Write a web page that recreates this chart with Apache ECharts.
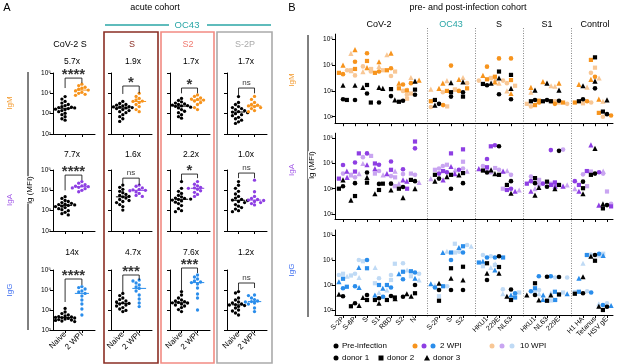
<!DOCTYPE html>
<html>
<head>
<meta charset="utf-8">
<script src="https://cdn.jsdelivr.net/npm/echarts@6/dist/echarts.min.js"></script>
<style>
  html, body { margin: 0; padding: 0; background: #fff; }
  #chart { width: 617px; height: 364px; }
</style>
</head>
<body>
<div id="chart"></div>
<script>
// ---------- Panel A: acute cohort, lg(MFI) per column [CoV-2 S, S, S2, S-2P] ----------
const aAntigens = ['CoV-2 S', 'S', 'S2', 'S-2P'];
const aGroups = ['Naive', '2 WPI'];
const aFold = [['5.7x', '1.9x', '1.7x', '1.7x'], ['7.7x', '1.6x', '2.2x', '1.0x'], ['14x', '4.7x', '7.6x', '1.2x']];
const aSig = [['****', '*', '*', 'ns'], ['****', 'ns', '*', 'ns'], ['****', '***', '***', 'ns']];
// bracket: [left end, top, right end] in lg(MFI)
const aBracket = [
  [[4.26, 4.75, 4.5], [3.97, 4.36, 4.0], [4.0, 4.26, 4.0], [3.87, 4.26, 4.0]],
  [[4.0, 4.75, 4.5], [4.26, 4.6, 4.26], [4.36, 4.8, 4.6], [4.6, 4.85, 4.6]],
  [[3.4, 4.55, 4.25], [3.9, 4.75, 4.5], [4.0, 5.1, 4.85], [4.0, 4.35, 4.1]]
];

const igmNaive = [
  [3.84, 3.72, 3.6, 3.52, 3.45, 3.4, 3.35, 3.32, 3.3, 3.28, 3.25, 3.22, 3.2, 3.15, 3.1, 3.02, 2.95, 2.85, 2.75, 2.68],
  [3.6, 3.5, 3.45, 3.42, 3.38, 3.35, 3.33, 3.32, 3.3, 3.28, 3.25, 3.2, 3.15, 3.1, 3.05, 2.95, 2.85, 2.75, 2.62],
  [3.75, 3.65, 3.58, 3.52, 3.48, 3.45, 3.42, 3.4, 3.38, 3.36, 3.32, 3.28, 3.2, 3.12, 3.05, 2.95, 2.85, 2.78],
  [3.84, 3.55, 3.45, 3.35, 3.3, 3.25, 3.2, 3.15, 3.1, 3.08, 3.05, 3.0, 2.95, 2.9, 2.82, 2.75, 2.68, 2.6, 2.52]
];
const igm2wpi = [
  [4.45, 4.38, 4.3, 4.25, 4.2, 4.16, 4.12, 4.05, 4.0, 3.95, 3.9],
  [4.0, 3.85, 3.75, 3.68, 3.62, 3.6, 3.55, 3.45, 3.35, 3.2, 3.1],
  [3.92, 3.85, 3.78, 3.72, 3.7, 3.67, 3.62, 3.55, 3.45, 3.3, 3.2],
  [3.85, 3.7, 3.55, 3.45, 3.42, 3.38, 3.35, 3.3, 3.25, 3.15, 3.1]
];
const igaNaive = [
  [3.69, 3.6, 3.5, 3.45, 3.4, 3.36, 3.32, 3.3, 3.28, 3.26, 3.22, 3.2, 3.15, 3.1, 3.05, 3.0, 2.92, 2.85, 2.79],
  [4.26, 4.15, 4.05, 3.95, 3.88, 3.8, 3.75, 3.7, 3.68, 3.62, 3.55, 3.5, 3.45, 3.4, 3.3, 3.2, 3.03],
  [4.43, 4.1, 3.95, 3.85, 3.75, 3.68, 3.62, 3.6, 3.57, 3.55, 3.52, 3.48, 3.42, 3.35, 3.25, 3.1, 3.0, 2.95],
  [4.43, 4.25, 4.1, 3.95, 3.82, 3.7, 3.62, 3.56, 3.52, 3.5, 3.45, 3.4, 3.3, 3.22, 3.15, 3.08, 3.0, 2.95]
];
const iga2wpi = [
  [4.43, 4.35, 4.28, 4.22, 4.2, 4.18, 4.15, 4.12, 4.08, 4.0, 3.93],
  [4.26, 4.2, 4.12, 4.05, 4.02, 4.0, 3.98, 3.92, 3.85, 3.75, 3.7],
  [4.43, 4.3, 4.22, 4.15, 4.12, 4.1, 4.05, 3.98, 3.9, 3.8, 3.7],
  [4.5, 3.93, 3.7, 3.6, 3.55, 3.52, 3.5, 3.45, 3.4, 3.35, 3.28]
];
const iggNaive = [
  [3.08, 2.9, 2.82, 2.75, 2.7, 2.67, 2.65, 2.63, 2.62, 2.6, 2.58, 2.55, 2.52, 2.5, 2.48, 2.45, 2.42],
  [3.83, 3.72, 3.6, 3.52, 3.45, 3.4, 3.36, 3.33, 3.3, 3.25, 3.2, 3.12, 3.05, 2.98, 2.92],
  [3.92, 3.75, 3.6, 3.5, 3.45, 3.42, 3.38, 3.36, 3.35, 3.3, 3.25, 3.2, 3.12, 3.02, 2.92],
  [3.92, 3.85, 3.6, 3.5, 3.4, 3.35, 3.3, 3.27, 3.25, 3.22, 3.18, 3.1, 3.0, 2.95, 2.85, 2.75]
];
const igg2wpi = [
  [4.17, 4.12, 4.05, 3.95, 3.9, 3.83, 3.7, 3.5, 3.3, 3.05, 2.75],
  [4.5, 4.45, 4.35, 4.25, 4.15, 4.08, 3.95, 3.75, 3.55, 3.35, 3.17],
  [4.75, 4.65, 4.55, 4.45, 4.4, 4.37, 4.3, 4.1, 3.8, 3.6, 3.0],
  [3.75, 3.72, 3.6, 3.52, 3.45, 3.42, 3.4, 3.35, 3.3, 3.1, 2.92]
];

// ---------- Panel B: pre- and post-infection cohort, [donor 1, donor 2, donor 3] ----------
const bGroupNames = ['CoV-2', 'OC43', 'S', 'S1', 'Control'];
const bAntigens = [
  ['S-2P', 'S-6P', 'S', 'S1', 'RBD', 'S2', 'N'],
  ['S-2P', 'S', 'S2'],
  ['HKU1', '229E', 'NL63'],
  ['HKU1', 'NL63', '229E'],
  ['H1 HA', 'Tetanus', 'HSV gE']
];
const bIgMPre = [[2.68,2.68,3.22],[2.65,2.65,3.22],[2.9,3.23,3.14],[2.55,2.55,3.14],[2.8,3.07,3.1],[2.62,2.58,2.65],[2.85,3.05,3.38],
  [2.5,2.65,2.45],[2.78,2.95,3.32],[2.95,2.78,3.35],[3.22,3.27,3.3],[2.87,3.75,3.5],[2.68,3.62,3.1],
  [2.65,2.6,3.03],[2.65,2.6,3.3],[2.62,2.6,3.03],[2.68,2.6,3.2],[3.1,4.3,3.38],[2.1,2.2,2.65]];
const bIgM2 = [[3.65,3.7,4.0],[4.13,3.85,4.6],[4.46,4.16,3.9],[3.75,3.7,4.13],[3.88,3.8,4.46],[3.25,3.1,3.3],[3.3,3.02,3.42],
  [2.45,2.6,3.1],[3.98,3.0,3.3],[3.0,3.1,3.45],[3.94,3.45,3.6],[4.26,3.55,3.35],[4.26,3.42,2.9],
  [2.55,2.45,3.14],[2.6,2.62,3.36],[2.5,2.55,3.3],[2.6,2.55,3.25],[3.55,4.2,3.45],[2.05,2.15,2.68]];
const bIgM10 = [[3.8,3.75,3.78],[3.6,3.8,4.45],[3.95,3.85,3.75],[3.75,3.8,3.95],[3.58,3.75,4.4],[3.0,2.7,3.05],[2.85,2.9,3.52],
  [2.38,2.4,3.07],[2.95,3.05,3.4],[3.3,3.05,3.52],[3.4,3.5,3.45],[3.4,3.5,3.3],[3.3,3.2,3.0],
  [2.4,2.5,2.95],[2.55,2.6,3.2],[2.5,2.55,3.18],[2.55,2.52,3.15],[3.7,3.9,3.5],[2.0,2.1,2.6]];
const bIgAPre = [[3.1,3.0,3.35],[3.22,2.71,2.55],[3.64,3.24,3.45],[3.19,2.95,2.8],[3.2,3.2,2.95],[3.07,3.0,2.65],[3.3,3.35,3.0],
  [3.4,3.55,3.3],[3.0,3.55,3.48],[3.22,3.62,3.55],[3.64,3.72,3.75],[4.68,3.55,3.6],[3.3,3.15,2.82],
  [3.22,3.42,2.75],[3.08,3.28,3.05],[4.5,3.15,3.0],[3.28,3.02,2.8],[3.6,3.55,4.6],[2.35,2.22,2.4]];
const bIgA2 = [[3.94,3.4,3.45],[4.04,3.68,3.7],[4.4,4.4,3.95],[3.95,4.0,3.8],[4.08,3.75,3.6],[3.77,3.0,3.35],[4.6,4.87,3.3],
  [3.6,3.7,3.35],[3.65,4.4,3.88],[3.75,4.56,3.6],[4.18,3.85,3.8],[4.72,4.68,3.7],[3.0,2.95,2.9],
  [3.3,3.2,2.9],[3.2,3.15,3.1],[4.53,3.25,3.1],[3.3,3.15,2.9],[3.65,3.7,4.74],[2.38,2.3,2.35]];
const bIgA10 = [[3.6,3.5,3.55],[3.45,3.55,3.6],[4.25,4.3,4.0],[3.7,3.6,3.55],[3.5,3.45,3.7],[3.58,3.1,3.2],[3.55,3.6,3.25],
  [3.8,3.75,3.4],[3.9,3.95,3.75],[3.8,4.07,3.7],[3.9,3.82,3.78],[3.75,3.65,3.72],[3.55,3.0,2.95],
  [3.48,3.35,3.0],[3.3,3.15,3.2],[4.55,3.2,3.15],[3.57,3.1,3.0],[3.6,3.68,3.7],[2.4,2.89,2.3]];
const bIgGPre = [[2.55,2.52,2.63],[2.27,2.15,2.18],[2.6,2.4,2.5],[2.47,2.4,2.27],[2.56,2.4,2.45],[2.53,2.5,2.55],[3.0,2.67,2.65],
  [2.8,2.37,3.07],[2.8,3.67,3.27],[2.8,3.73,3.2],[3.2,3.87,3.47],[4.15,3.72,3.47],[2.82,2.4,2.55],
  [2.6,3.07,2.6],[3.33,2.37,2.4],[3.32,2.62,2.6],[2.67,2.65,3.33],[4.2,3.97,4.15],[2.13,2.0,2.15]];
const bIgG2 = [[2.87,3.25,3.13],[2.95,2.93,2.9],[4.0,3.67,3.7],[2.53,3.0,2.6],[2.9,3.0,2.87],[3.23,3.53,3.45],[3.5,3.55,3.27],
  [2.9,2.95,3.05],[4.0,4.3,4.3],[4.3,4.55,4.5],[4.1,3.9,3.95],[4.1,4.1,3.6],[2.67,2.5,2.6],
  [2.75,2.87,2.6],[3.35,2.4,2.42],[3.35,2.73,2.65],[2.7,2.73,3.27],[4.25,4.2,4.18],[2.2,2.15,2.18]];
const bIgG10 = [[3.4,3.45,3.35],[3.45,3.38,3.3],[4.0,3.95,3.7],[3.27,3.07,2.7],[3.4,3.2,2.8],[3.87,3.85,3.6],[3.45,3.35,3.2],
  [2.95,2.55,3.0],[4.33,4.3,4.35],[4.6,4.65,4.55],[4.2,3.75,3.85],[4.15,3.8,3.7],[2.83,2.7,2.65],
  [2.8,2.7,2.65],[3.3,2.38,2.4],[3.3,2.7,2.68],[2.75,2.72,3.87],[4.22,4.25,4.2],[2.27,2.22,2.25]];

const isotypes = ['IgM', 'IgA', 'IgG'];
const isoColor = ['#F7941D', '#8E3FE3', '#2A8DEB'];
const isoLight = ['#F8C795', '#C9A5F1', '#BFDAF5'];
const isoLabelColor = ['#F39A2E', '#A35BE8', '#3B6CF0'];
const FONT = '"Liberation Sans", Arial, sans-serif';
const SUP = ['⁰', '¹', '²', '³', '⁴', '⁵'];

const chart = echarts.init(document.getElementById('chart'));

// simple beeswarm: deterministic horizontal offsets so marks don't overlap
function swarm(vals, pxX, pxY, size, step, maxK) {
  const placed = [];
  return vals.map(v => {
    let best = 0, bestCost = Infinity;
    for (let k = 0; k <= maxK; k++) {
      for (const sgn of (k === 0 ? [1] : [-1, 1])) {
        const dx = sgn * k * step;
        let cost = 0;
        placed.forEach(p => {
          const d = Math.hypot((p[0] - dx) * pxX, (p[1] - v) * pxY);
          if (d < size) cost += size - d;
        });
        if (cost === 0) { placed.push([dx, v]); return dx; }
        if (cost < bestCost) { bestCost = cost; best = dx; }
      }
    }
    placed.push([best, v]);
    return best;
  });
}
function median(arr) {
  const s = arr.slice().sort((a, b) => a - b);
  const m = Math.floor(s.length / 2);
  return s.length % 2 ? s[m] : (s[m - 1] + s[m]) / 2;
}

const grids = [], xAxes = [], yAxes = [], series = [], graphics = [];
const axisBlack = { show: true, onZero: false, lineStyle: { color: '#000', width: 1 } };
const tickBlack = { color: '#000', width: 1 };

function txt(text, x, y, size, color, extra) {
  return Object.assign({
    type: 'text', x: x, y: y, silent: true,
    style: { text: text, fill: color || '#000', fontSize: size, fontFamily: FONT,
      align: 'center', verticalAlign: 'middle', textAlign: 'center', textVerticalAlign: 'middle' }
  }, extra || {});
}

// ---- Panel A layout ----
const aCols = [[53, 42], [111, 41], [170, 40], [227, 40]];
const aRows = [[73, 61], [170, 61], [270, 60]];
const aNaive = [igmNaive, igaNaive, iggNaive];
const aWpi = [igm2wpi, iga2wpi, igg2wpi];
const aFoldY = [62, 155, 253];
const aFoldX = [72, 133, 191, 246];

aRows.forEach(([top, h], r) => {
  aCols.forEach(([left, w], c) => {
    const gi = grids.length;
    grids.push({ left: left, top: top, width: w, height: h, outerBoundsMode: 'none' });
    xAxes.push({
      gridIndex: gi, type: 'value', min: -0.72, max: 1.78,
      axisLine: axisBlack,
      axisTick: { show: true, customValues: [0, 1], length: 3, lineStyle: tickBlack },
      axisLabel: { show: r === 2, customValues: [0, 1], rotate: 45, margin: 3,
        formatter: v => aGroups[v] || '', fontSize: 8, color: '#000', fontFamily: FONT },
      splitLine: { show: false }
    });
    yAxes.push({
      gridIndex: gi, type: 'value', min: 2, max: 5,
      axisLine: axisBlack,
      axisTick: { show: true, customValues: [2, 3, 4, 5], length: 3, lineStyle: tickBlack },
      axisLabel: { show: c === 0, customValues: [2, 3, 4, 5], margin: 2,
        formatter: v => '10' + SUP[v], fontSize: 6.5, color: '#000', fontFamily: FONT },
      splitLine: { show: false }
    });
    const pxX = w / 2.5, pxY = h / 3;
    [[aNaive[r][c], '#000', 0], [aWpi[r][c], isoColor[r], 1]].forEach(([vals, col, xg]) => {
      const off = swarm(vals, pxX, pxY, 3.3, 0.19, 3);
      series.push({ type: 'scatter', xAxisIndex: gi, yAxisIndex: gi, symbolSize: 3.3, silent: true,
        itemStyle: { color: col, opacity: 1 }, data: vals.map((v, i) => [xg + off[i], v]) });
      const m = median(vals);
      series.push({ type: 'line', xAxisIndex: gi, yAxisIndex: gi, symbol: 'none', silent: true,
        lineStyle: { color: col, width: 1 }, data: [[xg - 0.42, m], [xg + 0.42, m]] });
    });
    const br = aBracket[r][c];
    series.push({ type: 'line', xAxisIndex: gi, yAxisIndex: gi, symbol: 'none', silent: true, clip: false,
      lineStyle: { color: '#000', width: 0.8 }, data: [[0, br[0]], [0, br[1]], [1, br[1]], [1, br[2]]] });
    const sig = aSig[r][c];
    series.push({ type: 'scatter', xAxisIndex: gi, yAxisIndex: gi, symbolSize: 0, silent: true, clip: false,
      data: [[0.5, br[1]]],
      label: { show: true, position: 'top', distance: sig === 'ns' ? 1 : -4, formatter: sig,
        fontSize: sig === 'ns' ? 8 : 15, fontWeight: sig === 'ns' ? 'normal' : 'bold', color: '#000', fontFamily: FONT } });
    graphics.push(txt(aFold[r][c], aFoldX[c], aFoldY[r], 8.5));
  });
});

// ---- Panel B layout ----
const bSlots = [], bLabels = [], bSpan = [];
let slot = 0;
bAntigens.forEach((g, gi) => {
  if (gi > 0) slot++;
  const start = slot;
  g.forEach(name => { bSlots.push(slot); bLabels[slot] = name; slot++; });
  bSpan.push([start, slot - 1]);
});
const bRows = [[34.1, 89.1, 1.75], [133.2, 85.8, 1.8], [230, 85, 1.8]];
const bData = [[bIgMPre, bIgM2, bIgM10], [bIgAPre, bIgA2, bIgA10], [bIgGPre, bIgG2, bIgG10]];
const donorSymbols = ['circle', 'rect', 'triangle'];
const donorSizes = [4.6, 4.2, 5.2];
const bFirstGrid = grids.length;

bRows.forEach(([top, h, ymin], r) => {
  const gi = grids.length;
  grids.push({ left: 335, top: top, width: 278, height: h, outerBoundsMode: 'none' });
  xAxes.push({
    gridIndex: gi, type: 'value', min: -0.667, max: 22.5,
    axisLine: axisBlack,
    axisTick: { show: true, customValues: bSlots, length: 3, lineStyle: tickBlack },
    axisLabel: { show: r === 2, customValues: bSlots, rotate: 45, margin: 3,
      formatter: v => bLabels[v] || '', fontSize: 7, color: '#000', fontFamily: FONT },
    splitLine: { show: false }
  });
  yAxes.push({
    gridIndex: gi, type: 'value', min: ymin, max: 5.2,
    axisLine: axisBlack,
    axisTick: { show: true, customValues: [2, 3, 4, 5], length: 3, lineStyle: tickBlack },
    axisLabel: { show: true, customValues: [2, 3, 4, 5], margin: 2,
      formatter: v => '10' + SUP[v], fontSize: 6.5, color: '#000', fontFamily: FONT },
    splitLine: { show: false }
  });
  const pxY = h / (5.2 - ymin);
  // offsets per antigen across all 9 marks (pre first, then 2 WPI, then 10 WPI)
  const offs = bSlots.map((s, k) => {
    const vals = [];
    bData[r].forEach(tp => tp[k].forEach(v => vals.push(v)));
    return swarm(vals, 12, pxY, 4.2, 0.34, 2);
  });
  const colors = ['#000', isoColor[r], isoLight[r]];
  [2, 1, 0].forEach(t => {
    donorSymbols.forEach((sym, d) => {
      series.push({ type: 'scatter', xAxisIndex: gi, yAxisIndex: gi, symbol: sym, symbolSize: donorSizes[d],
        silent: true, itemStyle: { color: colors[t], opacity: 1 },
        data: bSlots.map((s, k) => [s + offs[k][t * 3 + d], bData[r][t][k][d]]) });
    });
  });
});

// ---- static decorations ----
graphics.push(txt('A', 7, 8, 11, '#000', {}));
graphics.push(txt('acute cohort', 155, 8, 9));
graphics.push(txt('OC43', 187, 25, 9.5, '#2AA6A6'));
graphics.push({ type: 'line', silent: true, shape: { x1: 105, y1: 25, x2: 169, y2: 25 }, style: { stroke: '#2AA6A6', lineWidth: 1.5 } });
graphics.push({ type: 'line', silent: true, shape: { x1: 207, y1: 25, x2: 271, y2: 25 }, style: { stroke: '#2AA6A6', lineWidth: 1.5 } });
const boxColors = ['#8B2E24', '#F28B82', '#AAAAAA'];
[[104, 54], [161, 53], [217, 55]].forEach(([x, w], i) => {
  graphics.push({ type: 'rect', silent: true, shape: { x: x, y: 32, width: w, height: 331 },
    style: { fill: 'none', stroke: boxColors[i], lineWidth: 1.6 } });
});
const aTitleX = [70, 132, 188, 245];
const aTitleCol = ['#000', '#8B2E24', '#F07A70', '#AAAAAA'];
aAntigens.forEach((t, i) => graphics.push(txt(t, aTitleX[i], 45, 9, aTitleCol[i])));
graphics.push({ type: 'line', silent: true, shape: { x1: 28, y1: 72, x2: 28, y2: 330 }, style: { stroke: '#000', lineWidth: 1 } });
graphics.push(txt('lg (MFI)', 30, 190, 8, '#000', { rotation: Math.PI / 2 }));
graphics[graphics.length - 1].style.backgroundColor = '#fff';
const aIsoY = [103, 200, 290];
isotypes.forEach((t, i) => graphics.push(txt(t, 10, aIsoY[i], 8, isoLabelColor[i], { rotation: Math.PI / 2 })));

graphics.push(txt('B', 292, 8, 11));
graphics.push(txt('pre- and post-infection cohort', 468, 8, 9));
graphics.push({ type: 'line', silent: true, shape: { x1: 308, y1: 35, x2: 308, y2: 317 }, style: { stroke: '#000', lineWidth: 1 } });
graphics.push(txt('lg (MFI)', 312, 165, 8, '#000', { rotation: Math.PI / 2 }));
graphics[graphics.length - 1].style.backgroundColor = '#fff';
const bIsoY = [80, 170, 270];
isotypes.forEach((t, i) => graphics.push(txt(t, 292, bIsoY[i], 8, isoLabelColor[i], { rotation: Math.PI / 2 })));

// legend
function legendText(t, x, y) {
  const g = txt(t, x, y, 8);
  g.style.align = 'left'; g.style.textAlign = 'left';
  return g;
}
graphics.push({ type: 'circle', silent: true, shape: { cx: 336, cy: 346, r: 2.5 }, style: { fill: '#000' } });
graphics.push(legendText('Pre-infection', 342, 346));
[415, 424, 433].forEach((x, i) => graphics.push({ type: 'circle', silent: true, shape: { cx: x, cy: 346, r: 2.5 }, style: { fill: isoColor[i] } }));
graphics.push(legendText('2 WPI', 440, 346));
[492, 502, 512].forEach((x, i) => graphics.push({ type: 'circle', silent: true, shape: { cx: x, cy: 346, r: 2.5 }, style: { fill: isoLight[i] } }));
graphics.push(legendText('10 WPI', 520, 346));
graphics.push({ type: 'circle', silent: true, shape: { cx: 336, cy: 358, r: 2.5 }, style: { fill: '#000' } });
graphics.push(legendText('donor 1', 342, 358));
graphics.push({ type: 'rect', silent: true, shape: { x: 378.5, y: 355.5, width: 5, height: 5 }, style: { fill: '#000' } });
graphics.push(legendText('donor 2', 387, 358));
graphics.push({ type: 'polygon', silent: true, shape: { points: [[427, 355], [430, 360.5], [424, 360.5]] }, style: { fill: '#000' } });
graphics.push(legendText('donor 3', 433, 358));

chart.setOption({
  backgroundColor: '#fff',
  animation: false,
  textStyle: { fontFamily: FONT },
  grid: grids,
  xAxis: xAxes,
  yAxis: yAxes,
  series: series,
  graphic: { elements: graphics }
});

// group separators and group titles placed on the panel B axis scale
const extra = [];
const bx = bFirstGrid;
bSpan.forEach(([s0, s1], i) => {
  const cx = chart.convertToPixel({ xAxisIndex: bx }, (s0 + s1) / 2);
  extra.push(txt(bGroupNames[i], cx, 25, 9, i === 1 ? '#2AA6A6' : '#000'));
  if (i > 0) {
    const sx = Math.round(chart.convertToPixel({ xAxisIndex: bx }, s0 - 1)) + 0.5;
    extra.push({ type: 'line', silent: true, shape: { x1: sx, y1: 28, x2: sx, y2: 318 },
      style: { stroke: '#888', lineWidth: 1, lineDash: [1, 1.5] } });
  }
});
chart.setOption({ graphic: { elements: graphics.concat(extra) } });
</script>
</body>
</html>
